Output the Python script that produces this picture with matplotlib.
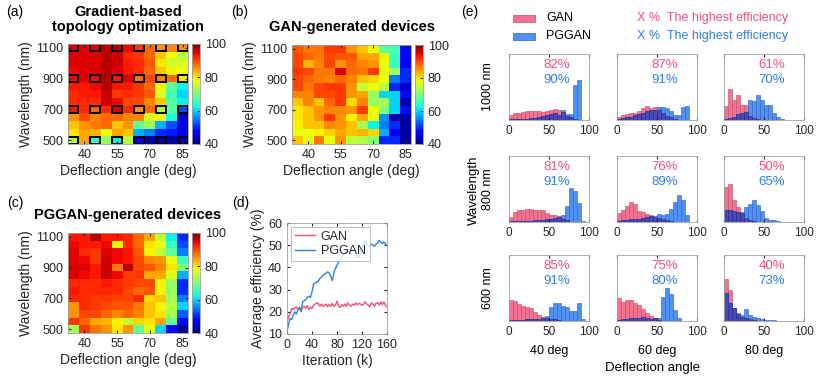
import numpy as np
import matplotlib
matplotlib.use("Agg")
import matplotlib.pyplot as plt
from matplotlib.patches import Rectangle

plt.rcParams['font.family'] = ['Liberation Sans', 'DejaVu Sans']

# ---------------- data ----------------
angles = [35, 40, 45, 50, 55, 60, 65, 70, 75, 80, 85]
wavelengths = [1100, 1050, 1000, 950, 900, 850, 800, 750, 700, 650, 600, 550, 500]

# efficiency maps, rows from 1100 nm (top) down to 500 nm
eff_topo = [
    [95, 95, 95, 97, 97, 94, 91, 88, 85, 86, 85],
    [95, 95, 95, 97, 96, 92, 91, 88, 82, 78, 74],
    [95, 95, 95, 97, 96, 93, 92, 89, 80, 76, 77],
    [94, 95, 95, 97, 95, 93, 92, 88, 82, 79, 78],
    [94, 95, 94, 97, 93, 95, 87, 90, 86, 88, 79],
    [93, 93, 94, 97, 93, 93, 91, 88, 79, 68, 62],
    [92, 93, 93, 96, 91, 92, 91, 89, 77, 66, 60],
    [92, 92, 92, 96, 94, 90, 90, 86, 82, 67, 62],
    [93, 92, 88, 92, 95, 92, 85, 88, 74, 67, 52],
    [85, 90, 86, 88, 88, 86, 86, 77, 78, 63, 44],
    [82, 85, 87, 88, 82, 85, 68, 72, 58, 52, 46],
    [80, 84, 83, 78, 84, 82, 58, 55, 50, 49, 45],
    [74, 84, 64, 72, 62, 74, 47, 42, 42, 42, 42],
]
eff_gan = [
    [89, 87, 87, 91, 91, 85, 82, 78, 68, 66, 48],
    [90, 88, 87, 90, 89, 89, 84, 84, 79, 65, 48],
    [90, 83, 86, 90, 85, 88, 86, 85, 78, 65, 47],
    [91, 90, 87, 87, 95, 88, 87, 91, 78, 73, 50],
    [90, 88, 87, 86, 88, 86, 82, 81, 78, 55, 50],
    [90, 87, 90, 91, 91, 85, 75, 78, 74, 50, 44],
    [86, 86, 90, 90, 91, 85, 84, 72, 60, 60, 48],
    [82, 86, 82, 88, 91, 81, 86, 72, 73, 60, 42],
    [80, 82, 85, 86, 86, 85, 91, 78, 70, 60, 48],
    [80, 82, 85, 91, 85, 79, 84, 78, 56, 42, 42],
    [79, 82, 82, 86, 85, 82, 73, 62, 55, 50, 42],
    [78, 78, 79, 81, 84, 82, 83, 81, 58, 46, 42],
    [82, 78, 87, 78, 85, 75, 74, 71, 50, 50, 42],
]
eff_pggan = [
    [93, 93, 97, 93, 93, 92, 88, 84, 75, 62, 50],
    [94, 93, 93, 94, 79, 92, 88, 80, 78, 65, 52],
    [95, 92, 91, 95, 94, 93, 89, 79, 75, 68, 55],
    [95, 94, 91, 96, 94, 93, 90, 86, 85, 78, 65],
    [95, 95, 93, 96, 87, 97, 90, 89, 86, 80, 70],
    [95, 94, 93, 96, 94, 91, 91, 84, 84, 77, 58],
    [92, 92, 92, 93, 92, 91, 90, 90, 79, 72, 50],
    [93, 92, 92, 92, 92, 90, 88, 89, 79, 72, 50],
    [92, 92, 91, 91, 90, 90, 92, 81, 82, 73, 55],
    [85, 92, 91, 90, 89, 89, 87, 82, 79, 74, 60],
    [85, 90, 90, 88, 86, 88, 86, 82, 80, 73, 53],
    [91, 88, 84, 83, 79, 75, 81, 80, 84, 68, 48],
    [73, 91, 87, 85, 80, 85, 68, 78, 60, 48, 41],
]
boxed_angles = [35, 45, 55, 65, 75, 85]
boxed_wavelengths = [1100, 900, 700, 500]

# training curves (average efficiency, %)
iteration_k = np.arange(0, 160.1, 2.5)
curve_gan = [15, 18, 19, 21.5, 21, 21.8, 22.2, 21, 21.5, 20.5, 21.8, 22.5, 21.5,
             22.8, 21, 22, 21.5, 23, 23.5, 24, 23.8, 22.5, 23.5, 22.5, 22.8, 23.5,
             22.3, 23.2, 22.5, 23.8, 22.5, 23, 24.8, 22.5, 22, 23.2, 22.5, 23.5,
             22.5, 24, 23, 22.5, 23.5, 23, 24, 23.2, 23.8, 23.5, 22.8, 23.5, 24.5,
             23.5, 23, 22.2, 24, 23.5, 22.5, 23.8, 24.2, 23, 24.5, 23.2, 24.5, 23, 22.2]
curve_pggan = [11, 14.5, 17, 16.5, 18.5, 20, 19, 21, 22, 20, 24.5, 25, 25.5, 26.5,
               27, 26.5, 29, 32.5, 33, 33.5, 33.8, 35, 35.5, 36.5, 37, 37.3, 38,
               37.5, 36, 34, 37.5, 39.5, 41, 42.5, 44, 44.5, 46, 46.3, 47, 47.5, 47,
               46.5, 47.5, 48, 47.5, 45, 44.5, 47, 48.5, 50, 52.5, 50, 49.5, 50,
               50.5, 50, 49.5, 50.5, 51, 52.2, 51.5, 50.8, 51.5, 50.5, 50]

# efficiency histograms (bins of 5 %), one list per deflection angle 40/60/80 deg
hist_wavelengths = ['1000 nm', '800 nm', '600 nm']
hist_angles = ['40 deg', '60 deg', '80 deg']
gan_1000 = [[15, 20, 20, 25, 28, 28, 28, 27, 25, 27, 30, 32, 30, 25, 12, 8, 4, 0, 0, 0],
            [10, 15, 18, 20, 22, 28, 35, 42, 35, 40, 30, 20, 12, 8, 3, 0, 0, 0, 0, 0],
            [42, 94, 62, 76, 44, 44, 12, 5, 3, 0, 0, 0, 0, 0, 0, 0, 0, 0, 0, 0]]
pggan_1000 = [[2, 3, 3, 3, 4, 5, 5, 8, 12, 15, 18, 20, 15, 30, 17, 19, 107, 120, 0, 0],
              [3, 5, 8, 10, 15, 18, 22, 28, 30, 30, 38, 38, 35, 28, 15, 15, 40, 42, 0, 0],
              [3, 5, 8, 18, 22, 25, 62, 58, 77, 62, 44, 44, 22, 8, 2, 0, 0, 0, 0, 0]]
gan_800 = [[14, 30, 35, 37, 38, 38, 37, 37, 35, 27, 20, 20, 18, 10, 5, 0, 0, 0, 0, 0],
           [27, 37, 50, 62, 55, 32, 30, 24, 22, 15, 12, 10, 6, 3, 0, 0, 0, 0, 0, 0],
           [106, 115, 67, 46, 28, 12, 5, 2, 0, 0, 0, 0, 0, 0, 0, 0, 0, 0, 0, 0]]
pggan_800 = [[2, 3, 3, 3, 3, 4, 5, 6, 6, 8, 10, 12, 15, 20, 50, 102, 94, 57, 2, 0],
             [3, 5, 6, 8, 10, 10, 12, 15, 18, 18, 25, 20, 25, 40, 62, 82, 67, 22, 0, 0],
             [35, 35, 33, 30, 29, 44, 54, 67, 52, 33, 12, 7, 5, 2, 0, 0, 0, 0, 0, 0]]
gan_600 = [[65, 61, 51, 45, 41, 38, 28, 18, 13, 10, 7, 5, 3, 0, 0, 0, 0, 0, 0, 0],
           [70, 58, 65, 63, 55, 48, 35, 23, 15, 8, 4, 0, 0, 0, 0, 0, 0, 0, 0, 0],
           [128, 95, 38, 21, 13, 10, 6, 3, 0, 0, 0, 0, 0, 0, 0, 0, 0, 0, 0, 0]]
pggan_600 = [[3, 3, 4, 4, 5, 5, 5, 5, 8, 15, 41, 55, 55, 45, 41, 31, 31, 55, 5, 0],
             [3, 5, 5, 8, 8, 10, 12, 8, 5, 8, 10, 73, 100, 83, 33, 8, 0, 0, 0, 0],
             [85, 55, 38, 23, 18, 35, 18, 13, 10, 6, 4, 3, 2, 1, 1, 0, 0, 0, 0, 0]]
best_gan = [[82, 87, 61], [81, 76, 50], [85, 75, 40]]
best_pggan = [[90, 91, 70], [91, 89, 65], [91, 80, 73]]

# ---------------- figure ----------------
W, H = 830, 378
fig = plt.figure(figsize=(W / 100, H / 100), dpi=100)
TXT = '#262626'
FRAME = '#a0a0a0'
PINK = '#f2507a'
BLUE = '#2f7ff0'
PINK_FACE, PINK_EDGE = '#f2718e', '#c04a68'
BLUE_FACE, BLUE_EDGE = '#5090f0', '#2d62c4'
BOTH_FACE, BOTH_EDGE = '#4848b8', '#2c2c8a'


def px_axes(x0, y0, x1, y1):
    return fig.add_axes([x0 / W, 1 - y1 / H, (x1 - x0) / W, (y1 - y0) / H])


def ftext(x, y, s, **kw):
    kw.setdefault('ha', 'center')
    kw.setdefault('va', 'center')
    kw.setdefault('color', TXT)
    return fig.text(x / W, 1 - y / H, s, **kw)


def heatmap(box, cbox, data, boxes=False):
    ax = px_axes(*box)
    cax = px_axes(*cbox)
    im = ax.imshow(data, cmap='jet', vmin=40, vmax=100, aspect='auto',
                   extent=[32.5, 87.5, 475, 1125], interpolation='nearest')
    if boxes:
        for a in boxed_angles:
            for w in boxed_wavelengths:
                ax.add_patch(Rectangle((a - 2.3, w - 23), 4.6, 46, fill=False,
                                       edgecolor='black', lw=1.4))
    ax.set_xticks([40, 55, 70, 85])
    ax.set_yticks([500, 700, 900, 1100])
    ax.tick_params(direction='in', length=2, labelsize=9, colors=TXT,
                   top=True, right=True)
    for s in ax.spines.values():
        s.set_color(FRAME)
        s.set_linewidth(0.6)
    ax.set_xlabel('Deflection angle (deg)', fontsize=10, color=TXT, labelpad=2)
    ax.set_ylabel('Wavelength (nm)', fontsize=10, color=TXT, labelpad=2)
    cb = fig.colorbar(im, cax=cax, ticks=[40, 60, 80, 100])
    cb.ax.tick_params(direction='in', length=2, labelsize=9, colors=TXT)
    cb.outline.set_edgecolor(FRAME)
    cb.outline.set_linewidth(0.6)


heatmap((68, 44, 188, 144), (192, 44, 200, 144), eff_topo, boxes=True)
heatmap((292, 45, 411, 144), (415, 45, 423, 144), eff_gan)
heatmap((68, 233, 188, 333), (192, 233, 200, 333), eff_pggan)

ftext(128, 12, 'Gradient-based', fontsize=10.5, fontweight='bold', color='black')
ftext(128, 27, 'topology optimization', fontsize=10.5, fontweight='bold', color='black')
ftext(352, 27, 'GAN-generated devices', fontsize=10.5, fontweight='bold', color='black')
ftext(128, 215, 'PGGAN-generated devices', fontsize=10.5, fontweight='bold', color='black')
for lab, x, y in [('(a)', 15, 12), ('(b)', 240, 12), ('(c)', 15, 203),
                  ('(d)', 241, 203), ('(e)', 470, 12)]:
    ftext(x, y, lab, fontsize=10, color='black')

# (d) training curves
axd = px_axes(287, 223, 387, 334)
axd.plot(iteration_k, curve_gan, color=PINK, lw=1, label='GAN')
axd.plot(iteration_k, curve_pggan, color=BLUE, lw=1, label='PGGAN')
axd.set_xlim(0, 160)
axd.set_ylim(10, 60)
axd.set_xticks([0, 40, 80, 120, 160])
axd.set_yticks([10, 20, 30, 40, 50, 60])
axd.tick_params(direction='in', length=2, labelsize=9, colors=TXT, top=True, right=True)
for s in axd.spines.values():
    s.set_color(FRAME)
    s.set_linewidth(0.6)
axd.set_xlabel('Iteration (k)', fontsize=10, color=TXT, labelpad=2)
axd.set_ylabel('Average efficiency (%)', fontsize=10, color=TXT, labelpad=2)
leg = axd.legend(loc='upper left', fontsize=9, handlelength=1.6, borderpad=0.3,
                 labelspacing=0.2, handletextpad=0.5, fancybox=False,
                 borderaxespad=0.3)
leg.get_frame().set_edgecolor(FRAME)
leg.get_frame().set_linewidth(0.6)
for t in leg.get_texts():
    t.set_color(TXT)

# (e) histograms
bin_left = np.arange(0, 100, 5)
gan_all = [gan_1000, gan_800, gan_600]
pggan_all = [pggan_1000, pggan_800, pggan_600]
col_x = [509, 617, 724]
row_y = [54, 156, 255]
for i in range(3):
    for j in range(3):
        ax = px_axes(col_x[j], row_y[i], col_x[j] + 80, row_y[i] + 66)
        g = np.array(gan_all[i][j])
        p = np.array(pggan_all[i][j])
        ax.bar(bin_left, g, width=5, align='edge', color=PINK_FACE,
               edgecolor=PINK_EDGE, lw=0.4)
        ax.bar(bin_left, p, width=5, align='edge', color=BLUE_FACE,
               edgecolor=BLUE_EDGE, lw=0.4)
        ax.bar(bin_left, np.minimum(g, p), width=5, align='edge', color=BOTH_FACE,
               edgecolor=BOTH_EDGE, lw=0.4)
        ax.set_xlim(0, 100)
        ax.set_ylim(0, 200)
        ax.set_xticks([0, 50, 100])
        ax.set_yticks([])
        ax.tick_params(direction='in', length=2, labelsize=8.5, colors=TXT, top=True)
        for s in ax.spines.values():
            s.set_color(FRAME)
            s.set_linewidth(0.6)
        ax.text(0.6, 0.83, f'{best_gan[i][j]}%', transform=ax.transAxes,
                ha='center', va='center', color=PINK, fontsize=9.5)
        ax.text(0.6, 0.61, f'{best_pggan[i][j]}%', transform=ax.transAxes,
                ha='center', va='center', color=BLUE, fontsize=9.5)

for i, lab in enumerate(hist_wavelengths):
    ftext(488, row_y[i] + 33, lab, fontsize=9, rotation=90, color='black')
for j, lab in enumerate(hist_angles):
    ftext(col_x[j] + 40, 351, lab, fontsize=9, color='black')
ftext(474, 190, 'Wavelength', fontsize=9.5, rotation=90, color='black')
ftext(653, 368, 'Deflection angle', fontsize=9.5, color='black')

# (e) legend
fig.add_artist(Rectangle((513 / W, 1 - 22 / H), 22 / W, 7 / H, transform=fig.transFigure,
                         facecolor=PINK_FACE, edgecolor=PINK_EDGE, lw=0.5))
fig.add_artist(Rectangle((513 / W, 1 - 40 / H), 22 / W, 7 / H, transform=fig.transFigure,
                         facecolor=BLUE_FACE, edgecolor=BLUE_EDGE, lw=0.5))
ftext(546, 18, 'GAN', fontsize=9, ha='left', color='black')
ftext(546, 36, 'PGGAN', fontsize=9, ha='left', color='black')
ftext(637, 18, 'X %  The highest efficiency', fontsize=9, ha='left', color=PINK)
ftext(637, 36, 'X %  The highest efficiency', fontsize=9, ha='left', color=BLUE)

fig.savefig('out.png', dpi=100)
